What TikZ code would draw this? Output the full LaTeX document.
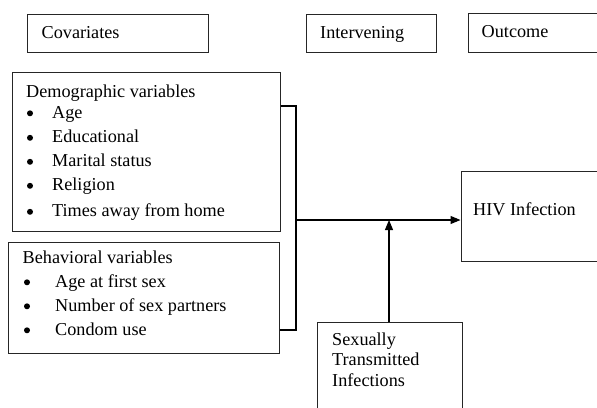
\documentclass[tikz,border=0pt]{standalone}
\usepackage{fontspec}
\setmainfont{Liberation Serif}
\usetikzlibrary{arrows.meta}
\begin{document}
\begin{tikzpicture}[x=1pt, y=-1pt,
        box/.style={draw=black!85, line width=0.7pt, rectangle, inner sep=0pt, anchor=north west},
        txt/.style={anchor=base west, inner sep=0pt, font=\fontsize{18.2}{22}\selectfont},
        dot/.style={circle, fill=black, inner sep=0pt, minimum size=6pt},
        link/.style={draw=black, line width=1.1pt},
        tip/.style={link, -{Triangle[length=10pt, width=8pt]}}]
        \useasboundingbox (0,0) rectangle (597,407);
        \clip (0,0) rectangle (597,407);
        % heading boxes
        \node[box, minimum width=181pt, minimum height=38pt] (covar) at (27,14) {};
        \node[box, minimum width=130pt, minimum height=38pt] (interv) at (306,14) {};
        \node[box, minimum width=140pt, minimum height=39pt] (outc) at (468,13) {};
        \node[txt] at (41.5,38) {Covariates};
        \node[txt] at (320,38) {Intervening};
        \node[txt] at (481.5,37) {Outcome};

        % demographic variables
        \node[box, minimum width=268pt, minimum height=159pt] (demo) at (12,72) {};
        \node[txt] at (26,97) {Demographic variables};
        \node[dot] at (30,113.3) {};
        \node[txt] at (52,118) {Age};
        \node[dot] at (30,137.8) {};
        \node[txt] at (52,142.5) {Educational};
        \node[dot] at (30,161.8) {};
        \node[txt] at (52,166.5) {Marital status};
        \node[dot] at (30,185.8) {};
        \node[txt] at (52,190.5) {Religion};
        \node[dot] at (30,211.8) {};
        \node[txt] at (52,216.5) {Times away from home};

        % behavioral variables
        \node[box, minimum width=271pt, minimum height=111pt] (behav) at (8,242) {};
        \node[txt] at (22.5,263) {Behavioral variables};
        \node[dot] at (27,282.3) {};
        \node[txt] at (55,287) {Age at first sex};
        \node[dot] at (27,306.3) {};
        \node[txt] at (55,311) {Number of sex partners};
        \node[dot] at (27,330.3) {};
        \node[txt] at (55,335) {Condom use};

        % outcome and intervening boxes
        \node[box, minimum width=150pt, minimum height=90pt] (hiv) at (460.5,171) {};
        \node[txt] at (473,215) {HIV Infection};
        \node[box, minimum width=145pt, minimum height=100pt] (sti) at (317,322) {};
        \node[txt] at (332,345) {Sexually};
        \node[txt] at (332,365.5) {Transmitted};
        \node[txt] at (332,386) {Infections};

        % Draw the connectors
        \coordinate (join) at (296,220);
        \coordinate (meet) at (389,220);
        \draw[link] (demo.east |- 0,106) -- (296,106) -- (296,330) -- (behav.east |- 0,330);
        \draw[tip] (join) -- (hiv.west |- join);
        \draw[tip] (sti.north -| meet) -- (meet);
    \end{tikzpicture}
\end{document}
